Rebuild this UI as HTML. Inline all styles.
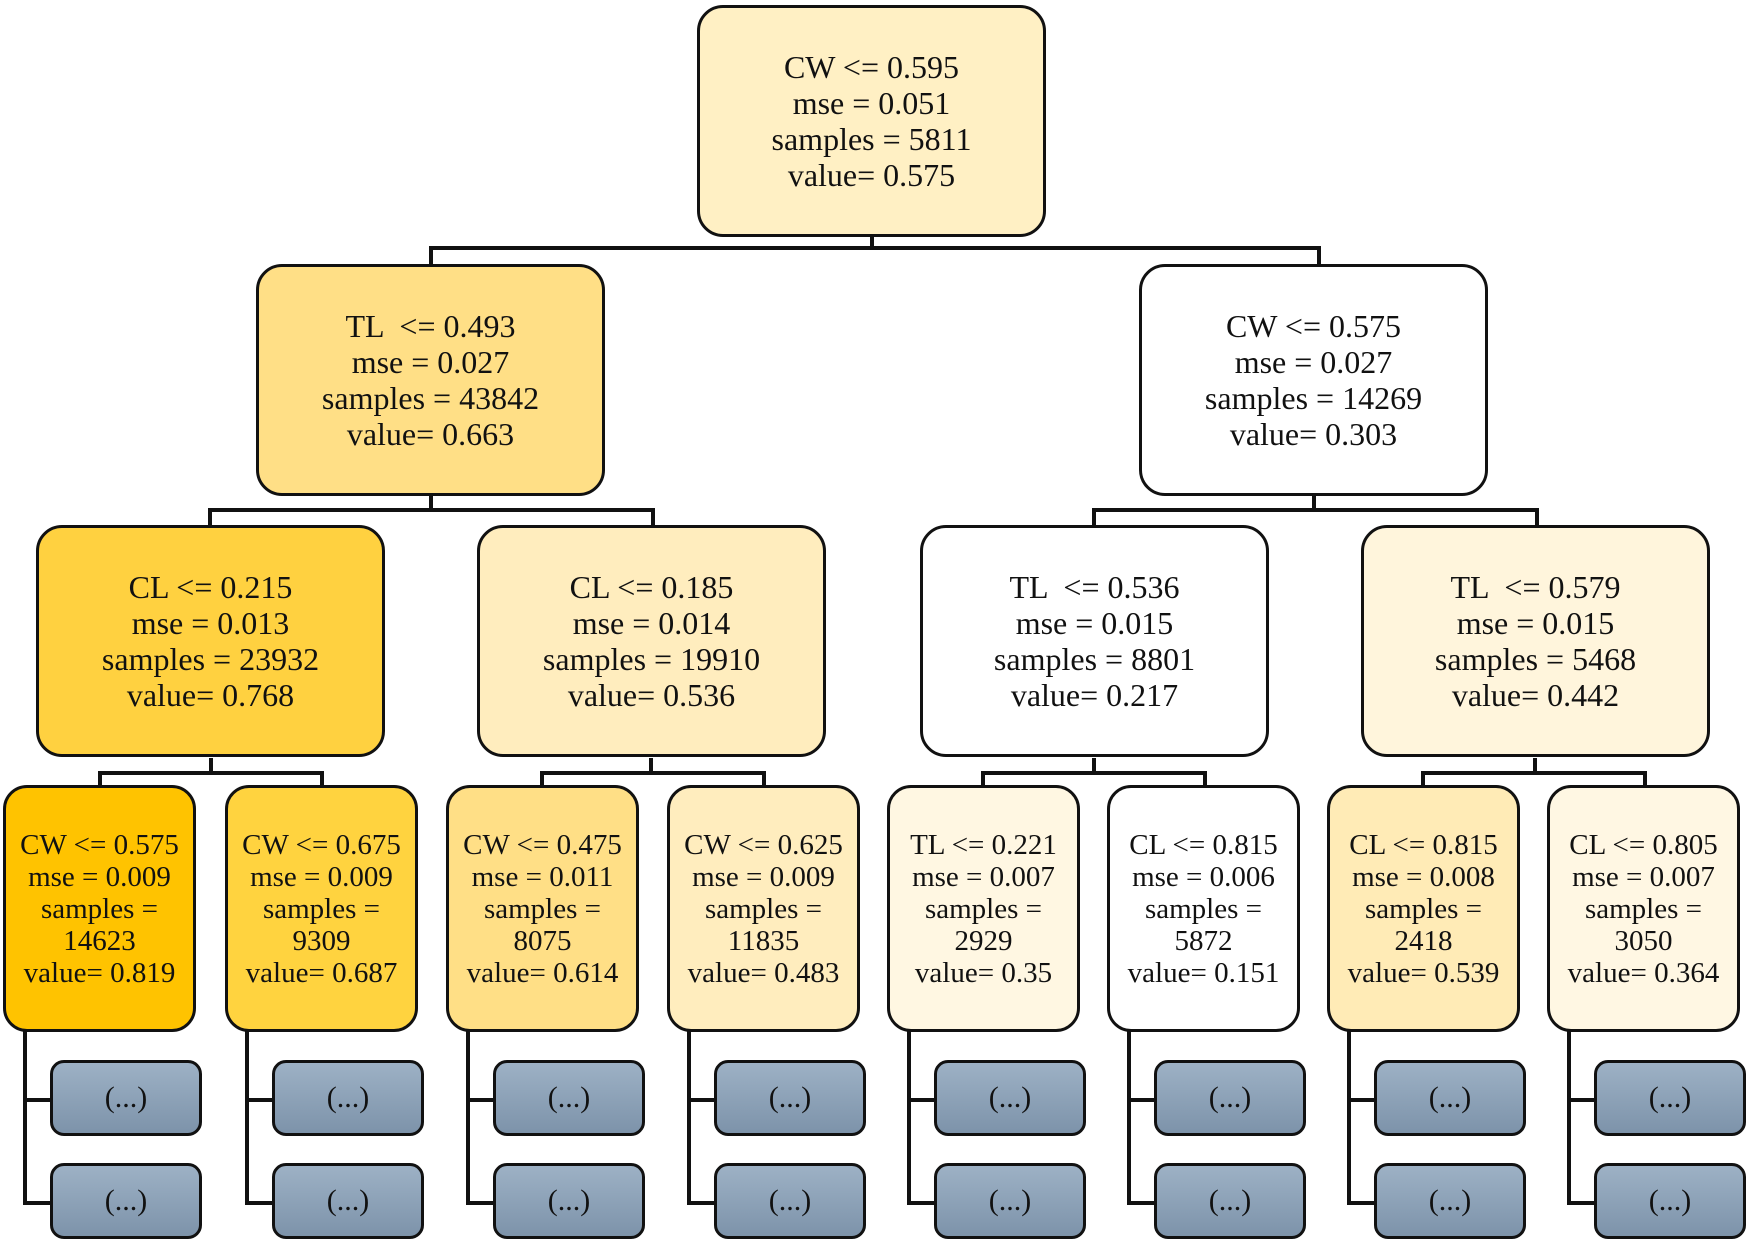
<!DOCTYPE html>
<html><head><meta charset="utf-8"><style>
body{margin:0;width:1748px;height:1243px;background:#fff;position:relative;overflow:hidden;font-family:"Liberation Serif",serif;color:#111}
.n{position:absolute;box-sizing:border-box;border:3px solid #111;border-radius:26px;display:flex;align-items:center;justify-content:center;text-align:center;white-space:nowrap}
.b{font-size:32px;line-height:36px;width:349px;height:232px}
.l{font-size:29px;line-height:32px;width:193px;height:247px;border-radius:24px}
.g{width:152px;height:76px;border-radius:14px;font-size:30px;background:linear-gradient(#9db1c5,#7d93aa);border-width:3px}
.h{position:absolute;background:#111}
</style></head><body>
<!-- connectors -->
<div class="h" style="left:870px;top:235px;width:4px;height:15px"></div>
<div class="h" style="left:429px;top:246px;width:892px;height:4px"></div>
<div class="h" style="left:429px;top:246px;width:4px;height:20px"></div>
<div class="h" style="left:1317px;top:246px;width:4px;height:20px"></div>

<div class="h" style="left:429px;top:496px;width:4px;height:16px"></div>
<div class="h" style="left:208px;top:508px;width:447px;height:4px"></div>
<div class="h" style="left:208px;top:508px;width:4px;height:19px"></div>
<div class="h" style="left:651px;top:508px;width:4px;height:19px"></div>
<div class="h" style="left:1312px;top:496px;width:4px;height:16px"></div>
<div class="h" style="left:1092px;top:508px;width:447px;height:4px"></div>
<div class="h" style="left:1092px;top:508px;width:4px;height:19px"></div>
<div class="h" style="left:1535px;top:508px;width:4px;height:19px"></div>

<div class="h" style="left:209px;top:758px;width:4px;height:16px"></div>
<div class="h" style="left:98px;top:771px;width:224px;height:4px"></div>
<div class="h" style="left:98px;top:771px;width:4px;height:16px"></div>
<div class="h" style="left:320px;top:771px;width:4px;height:16px"></div>
<div class="h" style="left:649px;top:758px;width:4px;height:16px"></div>
<div class="h" style="left:540px;top:771px;width:224px;height:4px"></div>
<div class="h" style="left:540px;top:771px;width:4px;height:16px"></div>
<div class="h" style="left:762px;top:771px;width:4px;height:16px"></div>
<div class="h" style="left:1092px;top:758px;width:4px;height:16px"></div>
<div class="h" style="left:981px;top:771px;width:224px;height:4px"></div>
<div class="h" style="left:981px;top:771px;width:4px;height:16px"></div>
<div class="h" style="left:1203px;top:771px;width:4px;height:16px"></div>
<div class="h" style="left:1533px;top:758px;width:4px;height:16px"></div>
<div class="h" style="left:1421px;top:771px;width:224px;height:4px"></div>
<div class="h" style="left:1421px;top:771px;width:4px;height:16px"></div>
<div class="h" style="left:1643px;top:771px;width:4px;height:16px"></div>

<!-- main nodes -->
<div class="n b" style="left:697px;top:5px;background:#fff0c4">CW &lt;= 0.595<br>mse = 0.051<br>samples = 5811<br>value= 0.575</div>
<div class="n b" style="left:256px;top:264px;background:#ffdf86">TL &nbsp;&lt;= 0.493<br>mse = 0.027<br>samples = 43842<br>value= 0.663</div>
<div class="n b" style="left:1139px;top:264px;background:#fff">CW &lt;= 0.575<br>mse = 0.027<br>samples = 14269<br>value= 0.303</div>
<div class="n b" style="left:36px;top:525px;background:#ffd140">CL &lt;= 0.215<br>mse = 0.013<br>samples = 23932<br>value= 0.768</div>
<div class="n b" style="left:477px;top:525px;background:#ffedbe">CL &lt;= 0.185<br>mse = 0.014<br>samples = 19910<br>value= 0.536</div>
<div class="n b" style="left:920px;top:525px;background:#fff">TL &nbsp;&lt;= 0.536<br>mse = 0.015<br>samples = 8801<br>value= 0.217</div>
<div class="n b" style="left:1361px;top:525px;background:#fff5dc">TL &nbsp;&lt;= 0.579<br>mse = 0.015<br>samples = 5468<br>value= 0.442</div>

<!-- leaves + sub -->
<div id="leaves"></div>
<script>
var L=[[3,"#ffc300","CW &lt;= 0.575","mse = 0.009","14623","0.819"],
[225,"#ffd33f","CW &lt;= 0.675","mse = 0.009","9309","0.687"],
[446,"#ffdf86","CW &lt;= 0.475","mse = 0.011","8075","0.614"],
[667,"#ffedbe","CW &lt;= 0.625","mse = 0.009","11835","0.483"],
[887,"#fff7e2","TL &lt;= 0.221","mse = 0.007","2929","0.35"],
[1107,"#ffffff","CL &lt;= 0.815","mse = 0.006","5872","0.151"],
[1327,"#ffebb6","CL &lt;= 0.815","mse = 0.008","2418","0.539"],
[1547,"#fff7e3","CL &lt;= 0.805","mse = 0.007","3050","0.364"]];
var h="";
L.forEach(function(a){var x=a[0];
h+='<div class="h" style="left:'+(x+20)+'px;top:1030px;width:4px;height:175px"></div>';
h+='<div class="h" style="left:'+(x+20)+'px;top:1098px;width:30px;height:4px"></div>';
h+='<div class="h" style="left:'+(x+20)+'px;top:1201px;width:30px;height:4px"></div>';
h+='<div class="n l" style="left:'+x+'px;top:785px;background:'+a[1]+'">'+a[2]+'<br>'+a[3]+'<br>samples =<br>'+a[4]+'<br>value= '+a[5]+'</div>';
h+='<div class="n g" style="left:'+(x+47)+'px;top:1060px">(...)</div>';
h+='<div class="n g" style="left:'+(x+47)+'px;top:1163px">(...)</div>';
});
document.getElementById("leaves").innerHTML=h;
</script>
</body></html>
